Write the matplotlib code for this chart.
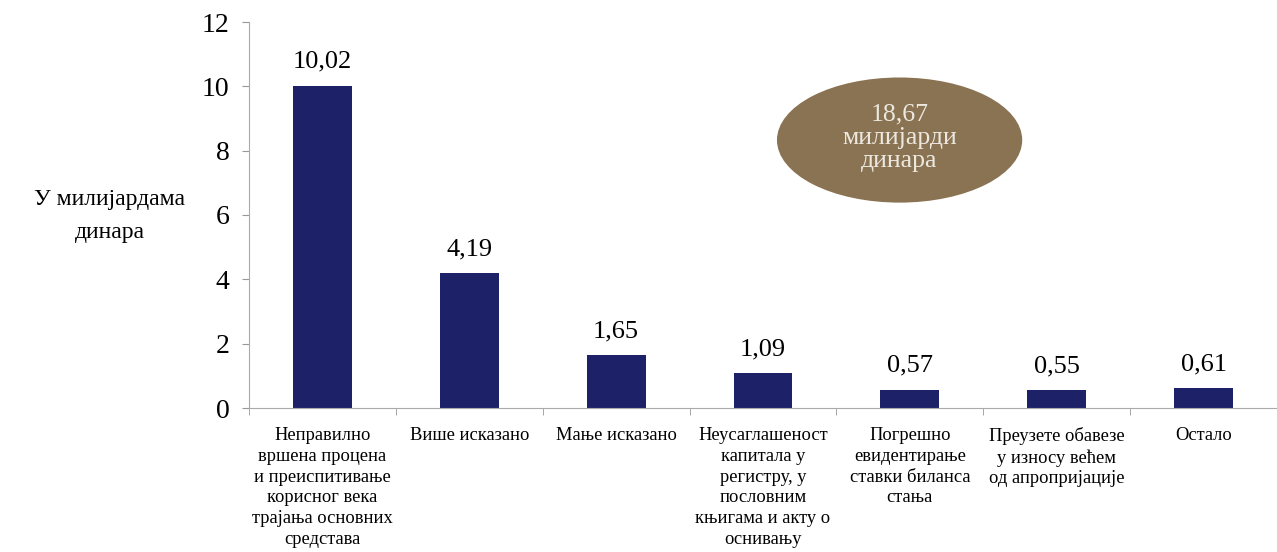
import matplotlib.pyplot as plt
from matplotlib.patches import Ellipse

plt.rcParams['font.family'] = ['Liberation Serif', 'DejaVu Serif']

categories = [
    'Неправилно\nвршена процена\nи преиспитивање\nкорисног века\nтрајања основних\nсредстава',
    'Више исказано',
    'Мање исказано',
    'Неусаглашеност\nкапитала у\nрегистру, у\nпословним\nкњигама и акту о\nоснивању',
    'Погрешно\nевидентирање\nставки биланса\nстања',
    'Преузете обавезе\nу износу већем\nод апропријације',
    'Остало',
]
values = [10.02, 4.19, 1.65, 1.09, 0.57, 0.55, 0.61]
value_labels = ['10,02', '4,19', '1,65', '1,09', '0,57', '0,55', '0,61']
total_label = '18,67\nмилијарди\nдинара'

fig = plt.figure(figsize=(12.77, 5.52), dpi=100)
ax = fig.add_axes([249 / 1277, 1 - 408 / 552, 1028 / 1277, 386 / 552])

x = range(len(values))
ax.bar(x, values, width=0.4, color='#1c2168')
for i, v in enumerate(values):
    ax.text(i, v + 0.4, value_labels[i], ha='center', va='bottom', fontsize=19)

ax.set_xlim(-0.5, 6.5)
ax.set_ylim(0, 12)
ax.set_yticks(range(0, 13, 2))
ax.tick_params(axis='y', labelsize=20, color='#999999', length=5, pad=9)

ax.set_xticks(x)
ax.set_xticklabels(categories, fontsize=13.3, va='top', linespacing=1.28)
ax.set_xticks([i + 0.5 for i in range(-1, 7)], minor=True)
ax.tick_params(axis='x', which='major', length=0, pad=14)
ax.tick_params(axis='x', which='minor', length=5, color='#999999')

for s in ['top', 'right']:
    ax.spines[s].set_visible(False)
for s in ['left', 'bottom']:
    ax.spines[s].set_color('#aaaaaa')

ell = Ellipse((3.93, 8.33), 1.67, 3.89, facecolor='#8a7352', edgecolor='none')
ax.add_patch(ell)
ax.text(3.93, 8.4, total_label, ha='center', va='center', fontsize=18.5,
        color='#ece8e0', linespacing=1.1)

fig.text(110 / 1277, 1 - 216 / 552, 'У милијардама\nдинара', ha='center',
         va='center', fontsize=17, linespacing=1.7)

fig.savefig('out.png', dpi=100)
